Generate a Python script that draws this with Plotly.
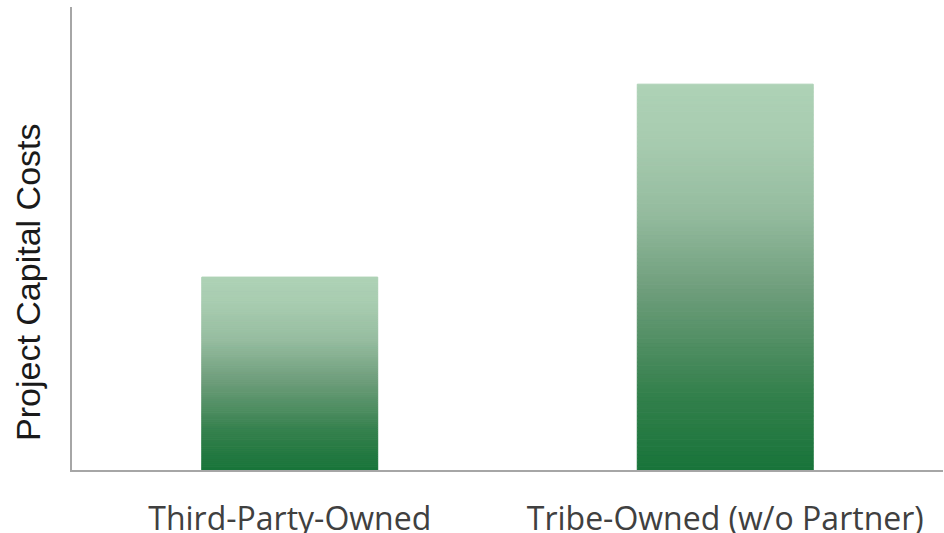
import plotly.graph_objects as go

categories = ["Third-Party-Owned", "Tribe-Owned (w/o Partner)"]
values = [1.0, 2.0]
y_title = "Project Capital Costs"

# gradient stops (fraction of bar height from bottom, rgb)
stops = [(0.0, (24, 116, 58)), (0.2, (52, 128, 76)), (0.47, (111, 158, 124)),
         (0.67, (149, 188, 159)), (0.85, (167, 203, 175)), (1.0, (174, 210, 182))]

def color_at(f):
    for (f0, c0), (f1, c1) in zip(stops[:-1], stops[1:]):
        if f0 <= f <= f1:
            t = (f - f0) / (f1 - f0)
            c = [round(a + (b - a) * t) for a, b in zip(c0, c1)]
            return f"rgb({c[0]},{c[1]},{c[2]})"
    c = stops[-1][1]
    return f"rgb({c[0]},{c[1]},{c[2]})"

N = 100
fig = go.Figure()
for k in range(N):
    f = (k + 0.5) / N
    col = color_at(f)
    fig.add_trace(go.Bar(
        x=categories,
        y=[v / N for v in values],
        base=[v * k / N for v in values],
        width=0.404,
        marker=dict(color=col, line=dict(color=col, width=1)),
        showlegend=False, hoverinfo="skip",
    ))

fig.add_annotation(
    text=y_title, textangle=-90,
    xref="paper", yref="paper", x=-0.0505, y=0.404,
    xanchor="center", yanchor="middle", showarrow=False,
    font=dict(family="Liberation Sans, Arial, sans-serif", size=34, color="#1a1a1a"),
)

fig.update_layout(
    width=944, height=533,
    barmode="overlay",
    plot_bgcolor="white", paper_bgcolor="white",
    margin=dict(l=72, r=1, t=7, b=63, autoexpand=False),
    font=dict(family="Liberation Sans, Arial, sans-serif", color="#000000"),
    xaxis=dict(
        automargin=False,
        showline=True, linecolor="#a6a6a6", linewidth=1.5,
        showgrid=False, zeroline=False,
        ticks="outside", ticklen=20, tickcolor="rgba(0,0,0,0)",
        tickfont=dict(family="Open Sans, sans-serif", size=32, color="#404040"),
        range=[-0.5, 1.5],
    ),
    yaxis=dict(
        automargin=False,
        showline=True, linecolor="#a6a6a6", linewidth=1.5,
        showgrid=False, zeroline=False, showticklabels=False,
        range=[0, 2.4],
    ),
)

fig.write_html("out.html", config={"displayModeBar": False},
               post_script="document.body.style.margin='0';document.body.style.overflow='hidden';")
